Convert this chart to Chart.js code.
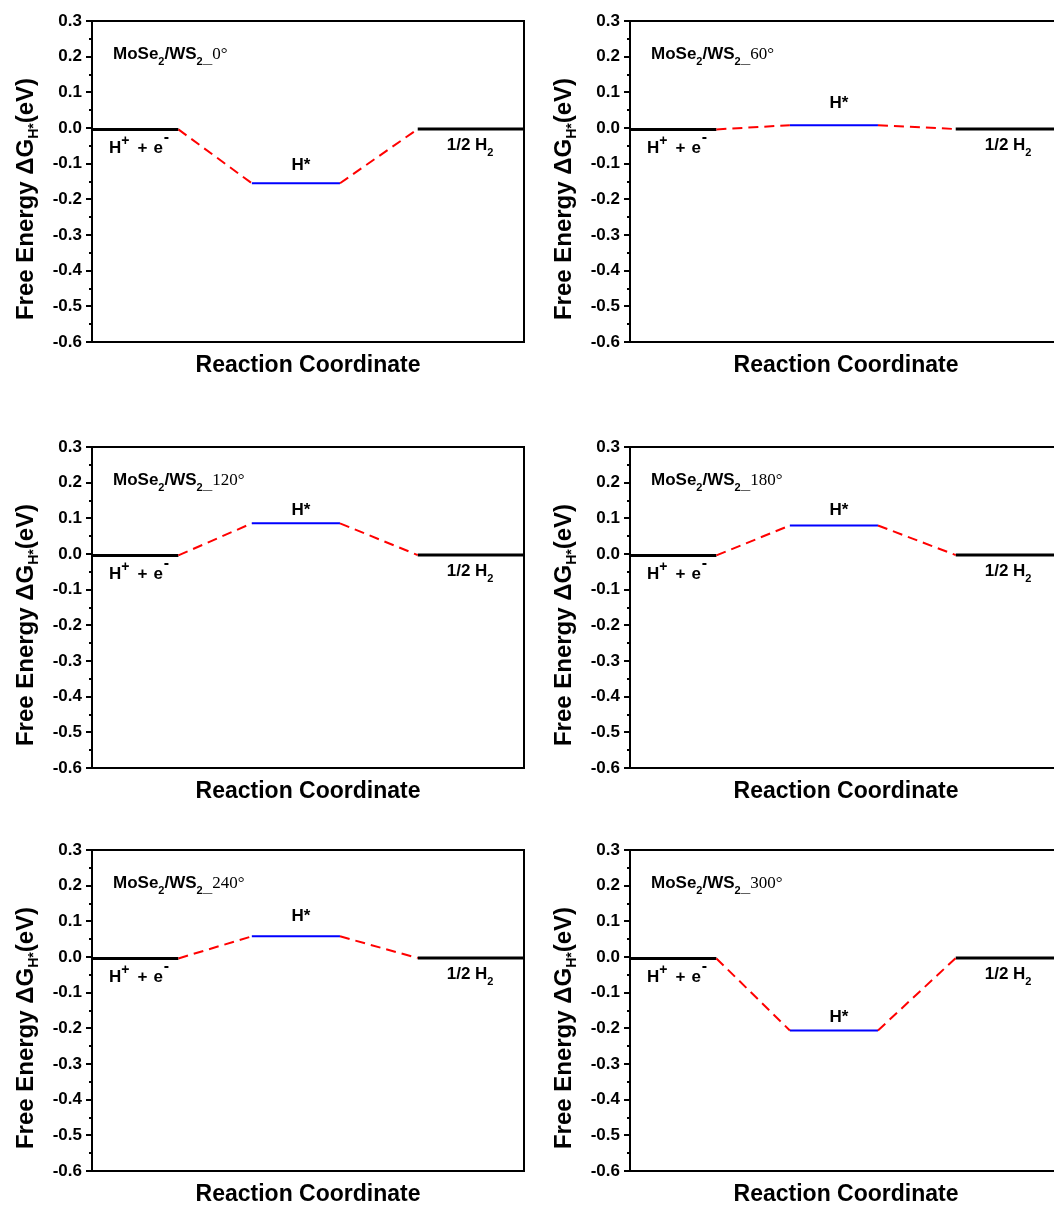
<!DOCTYPE html>
<html>
<head>
<meta charset="utf-8">
<title>HER free energy diagrams</title>
<script src="https://cdn.jsdelivr.net/npm/chart.js@4.4.1/dist/chart.umd.min.js"></script>
<style>
    html, body { margin: 0; padding: 0; background: #fff; }
    body { position: relative; width: 1054px; height: 1209px; overflow: hidden; }
    canvas.panel { position: absolute; }
</style>
</head>
<body>
<script>
/* ================= DATA ================= */
const panelAngles = ['0°', '60°', '120°', '180°', '240°', '300°'];
// free energy of each state (eV): H+ + e-, H*, 1/2 H2
const initialLevel = [-0.004, -0.004, -0.004, -0.004, -0.004, -0.004];
const adsorbedLevel = [-0.155, 0.008, 0.086, 0.080, 0.058, -0.206];
const finalLevel = [-0.003, -0.003, -0.003, -0.003, -0.003, -0.003];
// reaction coordinate break points: level | step | level | step | level
const stepX = [0, 1, 1.85, 2.87, 3.77, 5];
const yMin = -0.6;
const yMax = 0.3;
const yStep = 0.05;

/* ================= LAYOUT ================= */
const colLeft = [0, 538];
const rowTop = [0, 426, 829];
const hLabelLift = [13, 17, 8, 10, 15, 8];

const SANS = '"Liberation Sans", Arial, sans-serif';
const SERIF = '"Liberation Serif", "Times New Roman", serif';
const mainFont = 'bold 17px ' + SANS;
const subFont = 'bold 11px ' + SANS;
const supFont = 'bold 14px ' + SANS;

// draws a row of text pieces with their own font, gap and vertical shift
function drawRuns(ctx, runs, x, y) {
    runs.forEach(r => {
        ctx.font = r.font;
        x += r.dx || 0;
        ctx.fillText(r.text, x, y + (r.dy || 0));
        x += ctx.measureText(r.text).width;
    });
    return x;
}

function runsWidth(ctx, runs) {
    let w = 0;
    runs.forEach(r => {
        ctx.font = r.font;
        w += (r.dx || 0) + ctx.measureText(r.text).width;
    });
    return w;
}

function isMajor(v) {
    return Math.abs(Math.round(v * 100)) % 10 === 0;
}

// frame, minor ticks, y title and state labels
function panelDecor(i) {
    return {
        id: 'panelDecor' + i,
        afterDraw(chart) {
            const ctx = chart.ctx;
            const area = chart.chartArea;
            const x = chart.scales.x;
            const y = chart.scales.y;

            ctx.save();
            ctx.strokeStyle = '#000';
            ctx.lineWidth = 2;
            ctx.beginPath();
            ctx.moveTo(area.left, area.top);
            ctx.lineTo(area.right, area.top);
            ctx.lineTo(area.right, area.bottom);
            ctx.stroke();

            y.ticks.forEach(t => {
                const py = Math.round(y.getPixelForValue(t.value));
                const len = isMajor(t.value) ? 6 : 3;
                ctx.beginPath();
                ctx.moveTo(area.left - len, py);
                ctx.lineTo(area.left, py);
                ctx.stroke();
            });

            ctx.fillStyle = '#000';
            ctx.textBaseline = 'alphabetic';
            ctx.textAlign = 'left';

            // y axis title with subscript
            const titleRuns = [
                { text: 'Free Energy ΔG', font: 'bold 24px ' + SANS },
                { text: 'H*', font: 'bold 14px ' + SANS, dy: 5 },
                { text: '(eV)', font: 'bold 24px ' + SANS }
            ];
            const tw = runsWidth(ctx, titleRuns);
            ctx.save();
            ctx.translate(area.left - 59, area.top + 178);
            ctx.rotate(-Math.PI / 2);
            drawRuns(ctx, titleRuns, -tw / 2, 0);
            ctx.restore();

            // system name
            drawRuns(ctx, [
                { text: 'MoSe', font: mainFont },
                { text: '2', font: subFont, dy: 6 },
                { text: '/WS', font: mainFont },
                { text: '2', font: subFont, dy: 6 },
                { text: '_', font: mainFont, dy: 4 },
                { text: panelAngles[i], font: '17px ' + SERIF }
            ], area.left + 21, area.top + 38);

            // initial state
            drawRuns(ctx, [
                { text: 'H', font: mainFont },
                { text: '+', font: supFont, dy: -8 },
                { text: '+', font: mainFont, dx: 8 },
                { text: 'e', font: mainFont, dx: 6 },
                { text: '-', font: 'bold 16px ' + SANS, dy: -11, dx: 1 }
            ], x.getPixelForValue(stepX[0]) + 17, y.getPixelForValue(initialLevel[i]) + 24);

            // adsorbed state
            const hRuns = [{ text: 'H*', font: mainFont }];
            const hMid = (x.getPixelForValue(stepX[2]) + x.getPixelForValue(stepX[3])) / 2 + 5;
            drawRuns(ctx, hRuns, hMid - runsWidth(ctx, hRuns) / 2,
                y.getPixelForValue(adsorbedLevel[i]) - hLabelLift[i]);

            // final state
            drawRuns(ctx, [
                { text: '1/2 H', font: mainFont },
                { text: '2', font: subFont, dy: 6 }
            ], x.getPixelForValue(stepX[4]) + 29, y.getPixelForValue(finalLevel[i]) + 21);

            ctx.restore();
        }
    };
}

function segment(x0, y0, x1, y1) {
    return [{ x: x0, y: y0 }, { x: x1, y: y1 }];
}

/* ================= CHARTS ================= */
document.addEventListener('DOMContentLoaded', function () {
    panelAngles.forEach((angle, i) => {
        const canvas = document.createElement('canvas');
        canvas.className = 'panel';
        canvas.width = 530;
        canvas.height = 400;
        canvas.style.left = colLeft[i % 2] + 'px';
        canvas.style.top = rowTop[Math.floor(i / 2)] + 'px';
        document.body.appendChild(canvas);

        const a = initialLevel[i];
        const h = adsorbedLevel[i];
        const b = finalLevel[i];
        const step = { borderColor: '#ff0000', borderWidth: 2, borderDash: [10, 6] };
        const level = { borderColor: '#000', borderWidth: 3 };

        new Chart(canvas, {
            type: 'line',
            data: {
                datasets: [
                    { ...step, data: segment(stepX[1], a, stepX[2], h) },
                    { ...step, data: segment(stepX[3], h, stepX[4], b) },
                    { ...level, data: segment(stepX[0], a, stepX[1], a) },
                    { borderColor: '#0000ff', borderWidth: 2, data: segment(stepX[2], h, stepX[3], h) },
                    { ...level, data: segment(stepX[4], b, stepX[5], b) }
                ]
            },
            options: {
                responsive: false,
                animation: false,
                devicePixelRatio: 1,
                layout: { padding: { top: 21, right: 6, left: 0, bottom: 0 } },
                elements: { point: { radius: 0 }, line: { tension: 0 } },
                plugins: {
                    legend: { display: false },
                    tooltip: { enabled: false }
                },
                scales: {
                    x: {
                        type: 'linear',
                        min: stepX[0],
                        max: stepX[stepX.length - 1],
                        grid: { display: false, drawTicks: false },
                        ticks: { display: false },
                        border: { display: true, color: '#000', width: 2 },
                        title: {
                            display: true,
                            text: 'Reaction Coordinate',
                            color: '#000',
                            font: { family: SANS, size: 23, weight: 'bold' },
                            padding: { top: 0, bottom: 21 }
                        },
                        afterFit: scale => { scale.height = 58; }
                    },
                    y: {
                        min: yMin,
                        max: yMax,
                        grid: { display: false, drawTicks: false },
                        border: { display: true, color: '#000', width: 2 },
                        ticks: {
                            stepSize: yStep,
                            autoSkip: false,
                            padding: 10,
                            color: '#000',
                            font: { family: SANS, size: 17, weight: 'bold' },
                            callback: v => isMajor(v) ? v.toFixed(1) : ''
                        },
                        afterFit: scale => { scale.width = 92; }
                    }
                }
            },
            plugins: [panelDecor(i)]
        });
    });
});
</script>
</body>
</html>
